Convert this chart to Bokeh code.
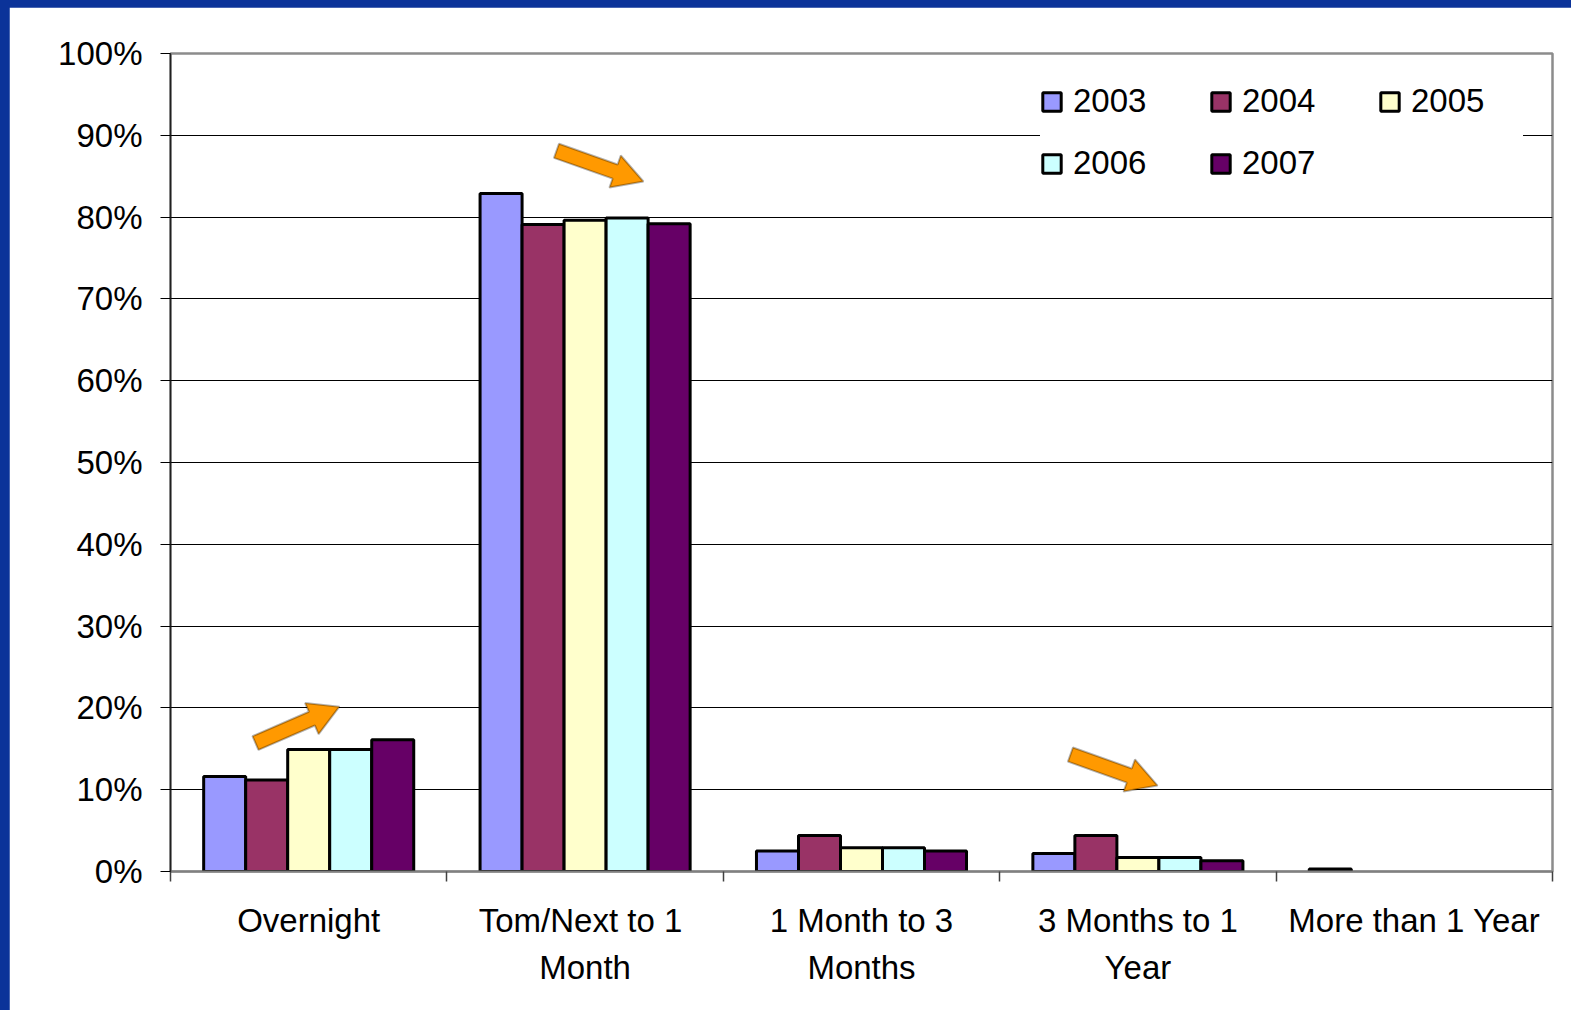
import math
from bokeh.plotting import figure
from bokeh.models import (Range1d, FixedTicker, NumeralTickFormatter, ColumnDataSource,
                          Legend, LegendItem, PolyAnnotation)
from bokeh.embed import file_html
from bokeh.resources import INLINE

# ---------------- data ----------------
categories = ["Overnight", "Tom/Next  to 1\nMonth", "1 Month to 3\nMonths",
              "3 Months to 1\nYear", "More than 1 Year"]
years = ["2003", "2004", "2005", "2006", "2007"]
v2003 = [0.116, 0.829, 0.025, 0.022, 0.003]
v2004 = [0.112, 0.791, 0.044, 0.044, 0.0]
v2005 = [0.149, 0.796, 0.029, 0.017, 0.0]
v2006 = [0.149, 0.799, 0.029, 0.017, 0.0]
v2007 = [0.161, 0.792, 0.025, 0.013, 0.0]
series = [v2003, v2004, v2005, v2006, v2007]
colors = ["#9999FF", "#993366", "#FFFFCC", "#CCFFFF", "#660066"]
y_ticks = [0.0, 0.1, 0.2, 0.3, 0.4, 0.5, 0.6, 0.7, 0.8, 0.9, 1.0]

# arrows: (category position, value) of tail and tip
arrows = [((0.3075, 0.157), (0.611, 0.2015)),
          ((1.3965, 0.881), (1.711, 0.8435)),
          ((3.256, 0.143), (3.571, 0.105))]

FONT = "Liberation Sans"
FS = "33px"
W, H = 1562, 1003
ML, MR, MT, MB = 161, 19, 46, 139
FW, FH = W - ML - MR, H - MT - MB

p = figure(width=W, height=H, output_backend="svg", toolbar_location=None,
           x_range=Range1d(0, len(categories)), y_range=Range1d(0, 1),
           min_border_left=ML, min_border_right=MR, min_border_top=MT, min_border_bottom=MB)
p.background_fill_color = "white"
p.border_fill_color = "white"
p.outline_line_color = "#8c8c8c"
p.outline_line_width = 2.5

# x axis: labels at category centres, tick marks at category boundaries
centers = [i + 0.5 for i in range(len(categories))]
p.xaxis.ticker = FixedTicker(ticks=centers, minor_ticks=list(range(len(categories) + 1)))
p.xaxis.major_label_overrides = {c: lab for c, lab in zip(centers, categories)}
p.xaxis.major_label_text_font = FONT
p.xaxis.major_label_text_font_size = FS
p.xaxis.major_label_text_color = "black"
p.xaxis.major_label_text_line_height = 1.275
p.xaxis.major_label_standoff = 20
p.xaxis.major_tick_out = 0
p.xaxis.major_tick_in = 0
p.xaxis.major_tick_line_color = None
p.xaxis.minor_tick_out = 10
p.xaxis.minor_tick_in = 0
p.xaxis.minor_tick_line_color = "#404040"
p.xaxis.minor_tick_line_width = 1.5
p.xaxis.axis_line_color = "#808080"
p.xaxis.axis_line_width = 2

p.yaxis.ticker = FixedTicker(ticks=y_ticks)
p.yaxis.formatter = NumeralTickFormatter(format="0%")
p.yaxis.major_label_text_font = FONT
p.yaxis.major_label_text_font_size = FS
p.yaxis.major_label_text_color = "black"
p.yaxis.major_label_standoff = 18
p.yaxis.major_tick_out = 10
p.yaxis.major_tick_in = 0
p.yaxis.major_tick_line_color = "black"
p.yaxis.minor_tick_line_color = None
p.yaxis.axis_line_color = "#202020"
p.yaxis.axis_line_width = 1.5

p.xgrid.grid_line_color = None
p.ygrid.ticker = FixedTicker(ticks=y_ticks)
p.ygrid.grid_line_color = "#000000"
p.ygrid.grid_line_width = 1

# bars
n = len(series)
bw = 0.152
items = []
for j, (yr, vals, col) in enumerate(zip(years, series, colors)):
    xs = [i + 0.5 + (j - (n - 1) / 2) * bw for i in range(len(categories))]
    tops = [v if v > 0 else float("nan") for v in vals]
    src = ColumnDataSource(dict(x=xs, top=tops))
    r = p.vbar(x="x", top="top", bottom=0, width=bw, source=src,
               fill_color=col, line_color="black", line_width=3)
    items.append(LegendItem(label=yr, renderers=[r]))

# arrows
kx, ky = FW / len(categories), FH / 1.0
for (x0, y0), (x1, y1) in arrows:
    px0, py0, px1, py1 = x0 * kx, y0 * ky, x1 * kx, y1 * ky
    dx, dy = px1 - px0, py1 - py0
    L = math.hypot(dx, dy)
    ux, uy = dx / L, dy / L
    nx, ny = -uy, ux
    hw, hh, hl = 7.5, 17, 30
    bx, by = px1 - ux * hl, py1 - uy * hl
    pts = [(px0 + nx * hw, py0 + ny * hw), (bx + nx * hw, by + ny * hw),
           (bx + nx * hh, by + ny * hh), (px1, py1),
           (bx - nx * hh, by - ny * hh), (bx - nx * hw, by - ny * hw),
           (px0 - nx * hw, py0 - ny * hw)]
    p.add_layout(PolyAnnotation(xs=[a / kx for a, b in pts], ys=[b / ky for a, b in pts],
                                fill_color="#FF9900", fill_alpha=1,
                                line_color="black", line_width=2))

legend = Legend(items=items, ncols=3, orientation="horizontal",
                location=(870, 689), glyph_width=23, glyph_height=23,
                label_standoff=10, label_width=112, spacing=24, padding=25,
                label_text_font=FONT, label_text_font_size=FS,
                label_text_color="black", background_fill_color="white",
                background_fill_alpha=1, border_line_color=None)
p.add_layout(legend)

html = file_html(p, INLINE)
css = ("<style>html, body { background-color: #0b3399 !important; margin: 0 !important; }"
       " body { padding: 7px 0 0 9px !important; }</style>")
html = html.replace("</head>", css + "</head>", 1)
open("out.html", "w").write(html)
